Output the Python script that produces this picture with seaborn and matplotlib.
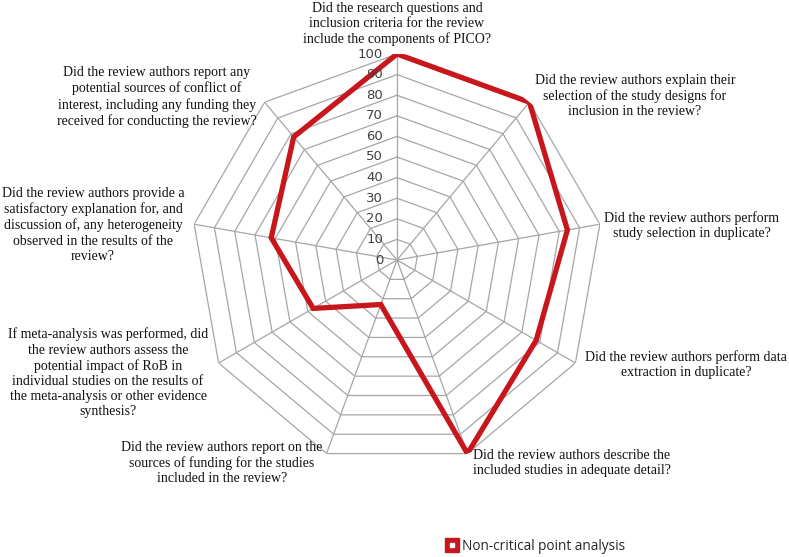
import numpy as np
import pandas as pd
import matplotlib
matplotlib.use("Agg")
import matplotlib.pyplot as plt
import matplotlib.transforms as mtransforms
from matplotlib.lines import Line2D
from matplotlib.legend_handler import HandlerTuple
import seaborn as sns

categories = [
    "Did the research questions and\ninclusion criteria for the review\ninclude the components of PICO?",
    "Did the review authors explain their\nselection of the study designs for\ninclusion in the review?",
    "Did the review authors perform\nstudy selection in duplicate?",
    "Did the review authors perform data\nextraction in duplicate?",
    "Did the review authors describe the\nincluded studies in adequate detail?",
    "Did the review authors report on the\nsources of funding for the studies\nincluded in the review?",
    "If meta-analysis was performed, did\nthe review authors assess the\npotential impact of RoB in\nindividual studies on the results of\nthe meta-analysis or other evidence\nsynthesis?",
    "Did the review authors provide a\nsatisfactory explanation for, and\ndiscussion of, any heterogeneity\nobserved in the results of the\nreview?",
    "Did the review authors report any\npotential sources of conflict of\ninterest, including any funding they\nreceived for conducting the review?",
]
values = [100, 100, 84, 78, 100, 23, 47, 62, 78]
series_name = "Non-critical point analysis"
rticks = [0, 10, 20, 30, 40, 50, 60, 70, 80, 90, 100]

# label positions in pixels (x, y from top)
label_pos = [
    (397, 24),
    (635, 96),
    (692, 226),
    (686, 365),
    (572, 463),
    (222, 463),
    (108, 373),
    (93, 225),
    (157, 97),
]

W, H = 789, 557
sns.set_theme(style="white")
plt.rcParams["font.family"] = ["DejaVu Sans"]

fig = plt.figure(figsize=(W / 100, H / 100), dpi=100)
cx, cy, R = 397, 260, 206
ax = fig.add_axes([(cx - R) / W, (H - cy - R) / H, 2 * R / W, 2 * R / H],
                  projection="polar")
ax.set_theta_zero_location("N")
ax.set_theta_direction(-1)

n = len(categories)
theta = np.arange(n) * 2 * np.pi / n
theta_closed = np.append(theta, 2 * np.pi)

grid_color = "#A6A6A6"
for r in rticks[1:]:
    ax.plot(theta_closed, [r] * (n + 1), color=grid_color, lw=0.9, zorder=1)
for t in theta:
    ax.plot([t, t], [0, 100], color=grid_color, lw=0.9, zorder=1)

df = pd.DataFrame({"theta": theta_closed,
                   "value": values + [values[0]]})
sns.lineplot(data=df, x="theta", y="value", sort=False, ax=ax,
             color="#C8161D", lw=3.8, zorder=3, legend=False)
ax.lines[-1].set_solid_joinstyle("miter")

ax.set_ylim(0, 100)
ax.grid(False)
ax.set_xticks([])
ax.set_yticks([])
ax.set_xlabel("")
ax.set_ylabel("")
ax.spines["polar"].set_visible(False)
ax.patch.set_alpha(0)

off = mtransforms.ScaledTranslation(-14 / 100, 0, fig.dpi_scale_trans)
for r in rticks:
    ax.text(0, r, str(r), transform=ax.transData + off, ha="right",
            va="center", fontsize=9.5, color="#404040", clip_on=False)

for lab, (x, y) in zip(categories, label_pos):
    fig.text(x / W, 1 - y / H, lab, ha="center", va="center", multialignment="center",
             fontsize=10, family="Liberation Serif", linespacing=1.22,
             color="#111111")

h1 = Line2D([], [], marker="s", color="#C8161D", markersize=10, linestyle="none")
h2 = Line2D([], [], marker="s", color="white", markersize=2.5, linestyle="none")
fig.legend([(h1, h2)], [series_name],
           handler_map={tuple: HandlerTuple(ndivide=1, pad=0)},
           loc="center left", bbox_to_anchor=(440 / W, 1 - 546 / H), frameon=False,
           handlelength=0.8, handletextpad=0.3, borderpad=0,
           prop={"family": "Open Sans", "size": 9.8})

fig.savefig("out.png", dpi=100)
